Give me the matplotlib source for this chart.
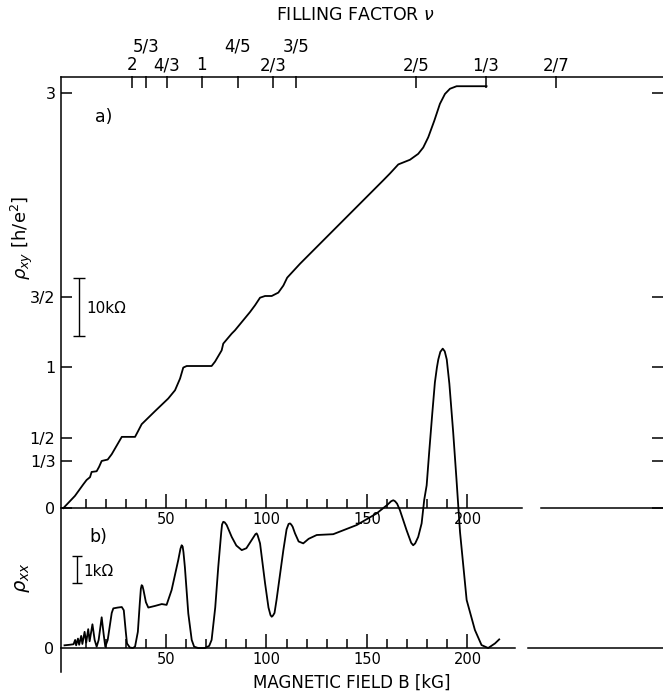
import matplotlib
matplotlib.use("Agg")
import matplotlib.pyplot as plt
from matplotlib.ticker import FixedLocator

plt.rcParams['font.family'] = ['DejaVu Sans']

# ---------------- data ----------------
# Hall resistance rho_xy [h/e^2] vs magnetic field B [kG]
B_xy = [-1.1, 4.7, 8.9, 10.5, 12.2, 13.0, 15.5, 16.7, 18.0, 21.0, 23.0, 28.0, 34.6,
        35.9, 37.9, 44.5, 51.1, 54.5, 57.0, 58.6, 60.3, 72.7, 74.4, 77.7, 78.5,
        82.7, 84.3, 91.8, 94.3, 96.8, 99.3, 102.6, 105.9, 108.4, 110.3, 116.7,
        143.2, 158.1, 161.4, 165.6, 171.4, 175.5, 178.0, 180.5, 183.5, 186.3,
        188.8, 191.3, 194.6, 209.5]
rho_xy = [0.0, 0.087, 0.17, 0.20, 0.22, 0.257, 0.262, 0.293, 0.335, 0.345, 0.383,
          0.506, 0.506, 0.541, 0.596, 0.688, 0.778, 0.837, 0.92, 0.998, 1.009,
          1.009, 1.04, 1.12, 1.168, 1.239, 1.262, 1.392, 1.44, 1.494, 1.506, 1.506,
          1.53, 1.58, 1.636, 1.735, 2.114, 2.327, 2.375, 2.44, 2.473, 2.515, 2.56,
          2.633, 2.75, 2.87, 2.94, 2.977, 2.995, 2.995]

# Longitudinal resistance rho_xx [kOhm] vs B [kG]
B_xx = [-0.5, 2.0, 4.0, 4.8, 5.3, 6.2, 6.8, 7.8, 8.4, 9.5, 10.3, 11.3, 12.0, 13.4,
        14.5, 15.5, 16.5, 18.0, 19.0, 19.8, 21.0, 23.0, 23.8, 26.0, 28.0, 29.0,
        30.0, 30.6, 32.0, 33.5, 34.6, 36.0, 37.0, 37.5, 37.9, 38.3, 38.8, 40.0,
        41.2, 44.5, 47.9, 50.3, 52.8, 56.1, 57.2, 57.8, 58.3, 58.7, 59.4, 61.1,
        62.8, 64.0, 66.0, 69.4, 71.5, 72.7, 74.5, 76.0, 77.5, 77.9, 78.5, 79.2,
        80.2, 82.7, 85.0, 87.7, 90.0, 92.6, 94.5, 95.1, 95.6, 96.8, 99.3, 101.0,
        102.0, 102.6, 103.2, 104.0, 105.0, 108.4, 110.0, 111.0, 111.7, 112.3,
        113.0, 114.2, 116.0, 118.3, 121.0, 125.0, 133.2, 144.9, 154.8, 160.0,
        162.0, 163.1, 164.0, 165.0, 166.4, 169.7, 172.0, 173.0, 174.0, 175.5,
        177.2, 178.5, 179.7, 181.0, 182.5, 183.8, 184.8, 185.5, 186.5, 187.7,
        188.7, 189.7, 191.0, 192.9, 194.5, 196.3, 199.6, 203.7, 207.0, 210.3,
        213.7, 215.8]
rho_xx = [0.10, 0.12, 0.14, 0.30, 0.10, 0.35, 0.12, 0.45, 0.15, 0.60, 0.20, 0.70,
          0.25, 0.88, 0.30, 0.05, 0.30, 1.14, 0.50, 0.05, 0.30, 1.30, 1.47, 1.50,
          1.52, 1.40, 0.60, 0.17, 0.02, 0.0, 0.05, 0.60, 1.70, 2.20, 2.33, 2.30,
          2.15, 1.70, 1.50, 1.56, 1.63, 1.60, 2.15, 3.26, 3.68, 3.81, 3.76, 3.55,
          3.00, 1.28, 0.30, 0.05, 0.0, 0.0, 0.08, 0.30, 1.50, 3.00, 4.30, 4.58,
          4.68, 4.66, 4.56, 4.12, 3.80, 3.63, 3.70, 4.00, 4.22, 4.25, 4.18, 3.88,
          2.40, 1.50, 1.22, 1.16, 1.20, 1.30, 1.78, 3.63, 4.40, 4.60, 4.62, 4.58,
          4.50, 4.25, 3.95, 3.88, 4.05, 4.19, 4.22, 4.56, 4.99, 5.30, 5.44, 5.48,
          5.44, 5.35, 5.11, 4.37, 3.90, 3.81, 3.88, 4.12, 4.62, 5.50, 6.03, 7.30,
          8.70, 9.85, 10.40, 10.70, 10.98, 11.10, 11.00, 10.70, 9.80, 8.00, 6.30,
          4.30, 1.78, 0.67, 0.11, 0.0, 0.17, 0.32]

# filling-factor axis (positions in kG)
nu_pos = [33.3, 40.0, 50.5, 67.8, 85.8, 103.1, 114.7, 174.6, 209.0, 244.0]
nu_lower = ['2', '', '4/3', '1', '', '2/3', '', '2/5', '1/3', '2/7']
nu_upper = ['', '5/3', '', '', '4/5', '', '3/5', '', '', '']
nu_long = [40.0, 114.7]

# y ticks
xy_ticks = [0, 1/3, 1/2, 1, 3/2, 2.95]
xy_labels = ['0', '1/3', '1/2', '1', '3/2', '3']

# x ticks
xy_major = [50, 100, 150]
xy_major_lab = ['50', '100', '']
xy_minor = [10, 20, 30, 40, 60, 70, 80, 90, 110, 120, 130, 140]
xx_major = [50, 100, 150, 200]
xx_major_lab = ['50', '100', '150', '200']
xx_minor = [10, 20, 30, 40, 60, 70, 80, 90, 110, 120, 130, 140, 160, 170, 180, 190]

# ---------------- layout ----------------
W, H = 663, 697
fig = plt.figure(figsize=(W / 100, H / 100), dpi=100)
ax_l, ax_r, ax_t, ax_b = 61, 663, 76.5, 672
pos = [ax_l / W, 1 - ax_b / H, (ax_r - ax_l) / W, (ax_b - ax_t) / H]

XMIN, XMAX = -2.24, 297.3
LW = 1.1
CW = 1.3

ax1 = fig.add_axes(pos)
ax1.set_xlim(XMIN, XMAX)
ax1.set_ylim(-1.163, 3.064)
ax1.spines['right'].set_visible(False)
for s in ['left', 'top', 'bottom']:
    ax1.spines[s].set_linewidth(LW)
ax1.spines['bottom'].set_position(('data', 0))
gap1 = (227.0, 236.6)
ax1.spines['bottom'].set_bounds(XMIN, gap1[0])
ax1.plot([gap1[1], XMAX], [0, 0], color='black', lw=LW, clip_on=False)

ax1.xaxis.set_major_locator(FixedLocator(xy_major))
ax1.set_xticklabels(xy_major_lab)
ax1.xaxis.set_minor_locator(FixedLocator(xy_minor))
ax1.tick_params(axis='x', which='major', direction='in', length=10, width=LW,
                labelsize=10.5, pad=3, top=False)
ax1.tick_params(axis='x', which='minor', direction='in', length=6.5, width=LW, top=False)

ax1.set_yticks(xy_ticks)
ax1.set_yticklabels(xy_labels)
ax1.tick_params(axis='y', direction='in', length=8, width=LW, left=True, right=True,
                labelsize=11.5, pad=4)

ax1.plot(B_xy, rho_xy, color='black', lw=CW)

# top filling-factor axis
sec = ax1.secondary_xaxis('top')
sec.spines['top'].set_visible(False)
sec.xaxis.set_major_locator(FixedLocator(nu_pos))
sec.set_xticklabels(nu_lower)
sec.xaxis.set_minor_locator(FixedLocator(nu_long))
sec.tick_params(axis='x', which='major', direction='in', length=8.6, width=LW,
                labelsize=12, pad=1.5)
sec.tick_params(axis='x', which='minor', direction='out', length=11.5, width=LW)
tr = ax1.get_xaxis_transform()
for p, lab in zip(nu_pos, nu_upper):
    if lab:
        ax1.text(p, 1 + (ax_t - 46.7) / (ax_b - ax_t), lab, transform=tr,
                 ha='center', va='center', fontsize=12)
fig.text(355 / W, 1 - 15 / H, r'FILLING FACTOR $\nu$', ha='center', va='center',
         fontsize=12.5)

# panel labels and scale bar (upper)
ax1.text(19.0, 2.78, 'a)', ha='center', va='center', fontsize=12.5)
ax1.errorbar([6.7], [1.4255], yerr=[0.2055], color='black', lw=1.0, capsize=4,
             capthick=1.0)
ax1.text(10.5, 1.418, '10kΩ', ha='left', va='center', fontsize=11)

# lower panel axes
ax2 = fig.add_axes(pos, sharex=ax1)
ax2.patch.set_visible(False)
ax2.set_ylim(-0.889, 21.19)
for s in ['left', 'right', 'top']:
    ax2.spines[s].set_visible(False)
ax2.spines['bottom'].set_linewidth(LW)
ax2.spines['bottom'].set_position(('data', 0))
gap2 = (223.6, 230.0)
ax2.spines['bottom'].set_bounds(XMIN, gap2[0])
ax2.plot([gap2[1], XMAX], [0, 0], color='black', lw=LW, clip_on=False)
ax2.xaxis.set_major_locator(FixedLocator(xx_major))
ax2.set_xticklabels(xx_major_lab)
ax2.xaxis.set_minor_locator(FixedLocator(xx_minor))
ax2.tick_params(axis='x', which='major', direction='in', length=10, width=LW,
                labelsize=10.5, pad=3, top=False)
ax2.tick_params(axis='x', which='minor', direction='in', length=6.5, width=LW, top=False)
ax2.set_yticks([0])
ax2.set_yticklabels(['0'])
ax2.tick_params(axis='y', length=0, labelsize=11.5, pad=5, right=False)
ax2.set_xlim(XMIN, XMAX)

ax2.plot(B_xx, rho_xx, color='black', lw=CW)
ax2.text(16.2, 4.1, 'b)', ha='center', va='center', fontsize=12.5)
ax2.errorbar([5.6], [2.91], yerr=[0.5], color='black', lw=1.0, capsize=3.5,
             capthick=1.0)
ax2.text(8.7, 2.83, '1kΩ', ha='left', va='center', fontsize=11)

# axis titles
fig.text(22 / W, 1 - 238 / H, r'$\rho_{xy}$ [h/e$^2$]', rotation=90,
         ha='center', va='center', fontsize=13)
fig.text(22 / W, 1 - 578 / H, r'$\rho_{xx}$', rotation=90,
         ha='center', va='center', fontsize=14)
fig.text(352 / W, 1 - 683 / H, 'MAGNETIC FIELD B [kG]', ha='center', va='center',
         fontsize=12)

fig.savefig('out.png', dpi=100)
